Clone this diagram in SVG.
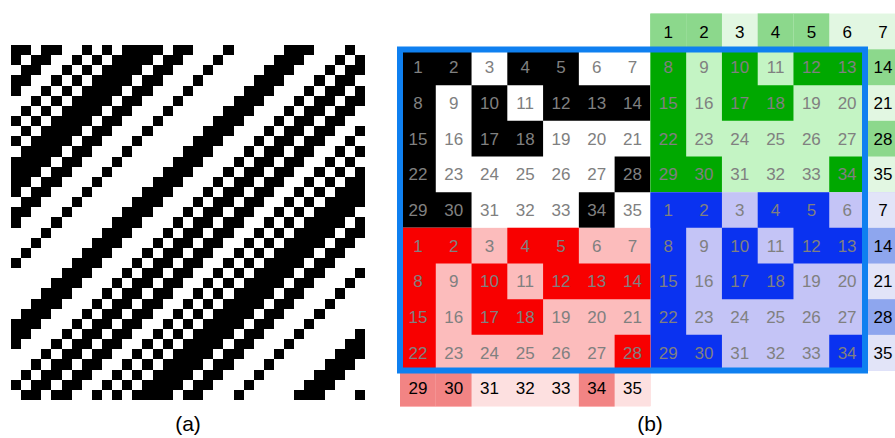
<svg xmlns="http://www.w3.org/2000/svg" xmlns:xlink="http://www.w3.org/1999/xlink" width="895" height="438" viewBox="0 0 895 438">
<style>
text{font-family:"Liberation Sans",Arial,sans-serif;font-size:17px;text-anchor:middle}
.t{fill:#808080}
.o{fill:#000}
.lab{font-size:21px;fill:#000}
.gD{fill:#00a800}.gL{fill:#c4f4c4}.gM{fill:#8cd88c}.gO{fill:#e2f7e2}
.bD{fill:#0a32f0}.bL{fill:#c4c4f6}.bM{fill:#8ea6ee}.bO{fill:#e2e4f8}
.rD{fill:#f80000}.rL{fill:#fcbcbc}.rM{fill:#f28484}.rO{fill:#fde0e0}
.frame{fill:none;stroke:#0f80f0;stroke-width:6}
</style>
<defs>
<path id="seq" d="M0 0h2v1h-2z M3 0h2v1h-2z M7 0h1v1h-1z M9 0h1v1h-1z M11 0h4v1h-4z M16 0h2v1h-2z M21 0h1v1h-1z M27 0h3v1h-3z M33 0h1v1h-1z M35 0h2v1h-2z M38 0h2v1h-2z M42 0h1v1h-1z M44 0h1v1h-1z M46 0h4v1h-4z M51 0h2v1h-2z M56 0h1v1h-1z M62 0h3v1h-3z M68 0h1v1h-1z"/>
<path id="dk" d="M0 0h71.54v35.67H0z M107.31 0h71.54v35.67h-71.54z M0 35.67h35.77v35.67H0z M71.54 35.67h35.77v35.67h-35.77z M143.08 35.67h107.31v35.67h-107.31z M0 71.34h35.77v35.67H0z M71.54 71.34h71.54v35.67h-71.54z M0 107.01h35.77v35.67H0z M214.62 107.01h35.77v35.67h-35.77z M0 142.68h71.54v35.67H0z M178.85 142.68h35.77v35.67h-35.77z"/>
<rect id="cell" width="35.77" height="35.67"/>
<clipPath id="clipA"><rect x="11" y="45" width="354" height="355"/></clipPath>
</defs>
<rect width="895" height="438" fill="#fff"/>

<g id="panel-a" clip-path="url(#clipA)">
<g transform="translate(11 45) scale(10.114 10.143)" fill="#000" shape-rendering="crispEdges">
<use href="#seq" x="0" y="0"/><use href="#seq" x="-1" y="1"/><use href="#seq" x="-2" y="2"/><use href="#seq" x="-3" y="3"/><use href="#seq" x="-4" y="4"/>
<use href="#seq" x="-5" y="5"/><use href="#seq" x="-6" y="6"/><use href="#seq" x="-7" y="7"/><use href="#seq" x="-8" y="8"/><use href="#seq" x="-9" y="9"/>
<use href="#seq" x="-10" y="10"/><use href="#seq" x="-11" y="11"/><use href="#seq" x="-12" y="12"/><use href="#seq" x="-13" y="13"/><use href="#seq" x="-14" y="14"/>
<use href="#seq" x="-15" y="15"/><use href="#seq" x="-16" y="16"/><use href="#seq" x="-17" y="17"/><use href="#seq" x="-18" y="18"/><use href="#seq" x="-19" y="19"/>
<use href="#seq" x="-20" y="20"/><use href="#seq" x="-21" y="21"/><use href="#seq" x="-22" y="22"/><use href="#seq" x="-23" y="23"/><use href="#seq" x="-24" y="24"/>
<use href="#seq" x="-25" y="25"/><use href="#seq" x="-26" y="26"/><use href="#seq" x="-27" y="27"/><use href="#seq" x="-28" y="28"/><use href="#seq" x="-29" y="29"/>
<use href="#seq" x="-30" y="30"/><use href="#seq" x="-31" y="31"/><use href="#seq" x="-32" y="32"/><use href="#seq" x="-33" y="33"/><use href="#seq" x="-34" y="34"/>
</g>
</g>
<text class="lab" x="188" y="431">(a)</text>

<g id="tile-black">
<rect x="400" y="49.5" width="250.39" height="178.35" fill="#fff"/>
<use href="#dk" x="400" y="49.5" fill="#000"/>
<text class="t" x="417.89" y="73.3">1</text><text class="t" x="453.66" y="73.3">2</text><text class="t" x="489.43" y="73.3">3</text><text class="t" x="525.2" y="73.3">4</text><text class="t" x="560.97" y="73.3">5</text><text class="t" x="596.74" y="73.3">6</text><text class="t" x="632.51" y="73.3">7</text>
<text class="t" x="417.89" y="109">8</text><text class="t" x="453.66" y="109">9</text><text class="t" x="489.43" y="109">10</text><text class="t" x="525.2" y="109">11</text><text class="t" x="560.97" y="109">12</text><text class="t" x="596.74" y="109">13</text><text class="t" x="632.51" y="109">14</text>
<text class="t" x="417.89" y="144.7">15</text><text class="t" x="453.66" y="144.7">16</text><text class="t" x="489.43" y="144.7">17</text><text class="t" x="525.2" y="144.7">18</text><text class="t" x="560.97" y="144.7">19</text><text class="t" x="596.74" y="144.7">20</text><text class="t" x="632.51" y="144.7">21</text>
<text class="t" x="417.89" y="180.3">22</text><text class="t" x="453.66" y="180.3">23</text><text class="t" x="489.43" y="180.3">24</text><text class="t" x="525.2" y="180.3">25</text><text class="t" x="560.97" y="180.3">26</text><text class="t" x="596.74" y="180.3">27</text><text class="t" x="632.51" y="180.3">28</text>
<text class="t" x="417.89" y="216">29</text><text class="t" x="453.66" y="216">30</text><text class="t" x="489.43" y="216">31</text><text class="t" x="525.2" y="216">32</text><text class="t" x="560.97" y="216">33</text><text class="t" x="596.74" y="216">34</text><text class="t" x="632.51" y="216">35</text>
</g>

<g id="tile-green">
<rect class="gL" x="650.39" y="13.83" width="250.39" height="178.35"/>
<use href="#dk" class="gD" x="650.39" y="13.83"/>
<rect class="gO" x="650.39" y="13.83" width="250.39" height="35.67"/>
<rect class="gO" x="865.01" y="49.5" width="35.77" height="142.68"/>
<use href="#cell" class="gM" x="650.39" y="13.83"/><use href="#cell" class="gM" x="686.16" y="13.83"/><use href="#cell" class="gM" x="757.7" y="13.83"/><use href="#cell" class="gM" x="793.47" y="13.83"/>
<use href="#cell" class="gM" x="865.01" y="49.5"/><use href="#cell" class="gM" x="865.01" y="120.84"/>
<text class="o" x="668.28" y="37.7">1</text><text class="o" x="704.05" y="37.7">2</text><text class="o" x="739.82" y="37.7">3</text><text class="o" x="775.59" y="37.7">4</text><text class="o" x="811.36" y="37.7">5</text><text class="o" x="847.13" y="37.7">6</text><text class="o" x="882.9" y="37.7">7</text>
<text class="t" x="668.28" y="73.3">8</text><text class="t" x="704.05" y="73.3">9</text><text class="t" x="739.82" y="73.3">10</text><text class="t" x="775.59" y="73.3">11</text><text class="t" x="811.36" y="73.3">12</text><text class="t" x="847.13" y="73.3">13</text><text class="o" x="882.9" y="73.3">14</text>
<text class="t" x="668.28" y="109">15</text><text class="t" x="704.05" y="109">16</text><text class="t" x="739.82" y="109">17</text><text class="t" x="775.59" y="109">18</text><text class="t" x="811.36" y="109">19</text><text class="t" x="847.13" y="109">20</text><text class="o" x="882.9" y="109">21</text>
<text class="t" x="668.28" y="144.7">22</text><text class="t" x="704.05" y="144.7">23</text><text class="t" x="739.82" y="144.7">24</text><text class="t" x="775.59" y="144.7">25</text><text class="t" x="811.36" y="144.7">26</text><text class="t" x="847.13" y="144.7">27</text><text class="o" x="882.9" y="144.7">28</text>
<text class="t" x="668.28" y="180.3">29</text><text class="t" x="704.05" y="180.3">30</text><text class="t" x="739.82" y="180.3">31</text><text class="t" x="775.59" y="180.3">32</text><text class="t" x="811.36" y="180.3">33</text><text class="t" x="847.13" y="180.3">34</text><text class="o" x="882.9" y="180.3">35</text>
</g>

<g id="tile-blue">
<rect class="bL" x="650.39" y="192.18" width="250.39" height="178.35"/>
<use href="#dk" class="bD" x="650.39" y="192.18"/>
<rect class="bO" x="865.01" y="192.18" width="35.77" height="178.35"/>
<use href="#cell" class="bM" x="865.01" y="227.85"/><use href="#cell" class="bM" x="865.01" y="299.19"/>
<text class="t" x="668.28" y="216">1</text><text class="t" x="704.05" y="216">2</text><text class="t" x="739.82" y="216">3</text><text class="t" x="775.59" y="216">4</text><text class="t" x="811.36" y="216">5</text><text class="t" x="847.13" y="216">6</text><text class="o" x="882.9" y="216">7</text>
<text class="t" x="668.28" y="251.7">8</text><text class="t" x="704.05" y="251.7">9</text><text class="t" x="739.82" y="251.7">10</text><text class="t" x="775.59" y="251.7">11</text><text class="t" x="811.36" y="251.7">12</text><text class="t" x="847.13" y="251.7">13</text><text class="o" x="882.9" y="251.7">14</text>
<text class="t" x="668.28" y="287.4">15</text><text class="t" x="704.05" y="287.4">16</text><text class="t" x="739.82" y="287.4">17</text><text class="t" x="775.59" y="287.4">18</text><text class="t" x="811.36" y="287.4">19</text><text class="t" x="847.13" y="287.4">20</text><text class="o" x="882.9" y="287.4">21</text>
<text class="t" x="668.28" y="323">22</text><text class="t" x="704.05" y="323">23</text><text class="t" x="739.82" y="323">24</text><text class="t" x="775.59" y="323">25</text><text class="t" x="811.36" y="323">26</text><text class="t" x="847.13" y="323">27</text><text class="o" x="882.9" y="323">28</text>
<text class="t" x="668.28" y="358.7">29</text><text class="t" x="704.05" y="358.7">30</text><text class="t" x="739.82" y="358.7">31</text><text class="t" x="775.59" y="358.7">32</text><text class="t" x="811.36" y="358.7">33</text><text class="t" x="847.13" y="358.7">34</text><text class="o" x="882.9" y="358.7">35</text>
</g>

<g id="tile-red">
<rect class="rL" x="400" y="227.85" width="250.39" height="178.35"/>
<use href="#dk" class="rD" x="400" y="227.85"/>
<rect class="rO" x="400" y="370.53" width="250.39" height="35.67"/>
<use href="#cell" class="rM" x="400" y="370.53"/><use href="#cell" class="rM" x="435.77" y="370.53"/><use href="#cell" class="rM" x="578.85" y="370.53"/>
<text class="t" x="417.89" y="251.7">1</text><text class="t" x="453.66" y="251.7">2</text><text class="t" x="489.43" y="251.7">3</text><text class="t" x="525.2" y="251.7">4</text><text class="t" x="560.97" y="251.7">5</text><text class="t" x="596.74" y="251.7">6</text><text class="t" x="632.51" y="251.7">7</text>
<text class="t" x="417.89" y="287.4">8</text><text class="t" x="453.66" y="287.4">9</text><text class="t" x="489.43" y="287.4">10</text><text class="t" x="525.2" y="287.4">11</text><text class="t" x="560.97" y="287.4">12</text><text class="t" x="596.74" y="287.4">13</text><text class="t" x="632.51" y="287.4">14</text>
<text class="t" x="417.89" y="323">15</text><text class="t" x="453.66" y="323">16</text><text class="t" x="489.43" y="323">17</text><text class="t" x="525.2" y="323">18</text><text class="t" x="560.97" y="323">19</text><text class="t" x="596.74" y="323">20</text><text class="t" x="632.51" y="323">21</text>
<text class="t" x="417.89" y="358.7">22</text><text class="t" x="453.66" y="358.7">23</text><text class="t" x="489.43" y="358.7">24</text><text class="t" x="525.2" y="358.7">25</text><text class="t" x="560.97" y="358.7">26</text><text class="t" x="596.74" y="358.7">27</text><text class="t" x="632.51" y="358.7">28</text>
<text class="o" x="417.89" y="394.4">29</text><text class="o" x="453.66" y="394.4">30</text><text class="o" x="489.43" y="394.4">31</text><text class="o" x="525.2" y="394.4">32</text><text class="o" x="560.97" y="394.4">33</text><text class="o" x="596.74" y="394.4">34</text><text class="o" x="632.51" y="394.4">35</text>
</g>

<rect id="frame" class="frame" x="400" y="49.5" width="465" height="321"/>
<text class="lab" x="650" y="431">(b)</text>
</svg>
